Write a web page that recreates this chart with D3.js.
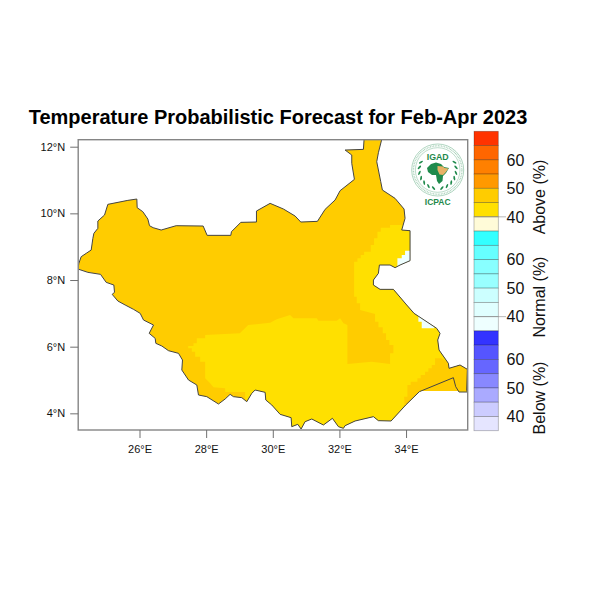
<!DOCTYPE html>
<html><head><meta charset="utf-8">
<script src="https://cdn.jsdelivr.net/npm/d3@7"></script>
<style>html,body{margin:0;padding:0;background:#fff}svg{display:block}text{font-family:"Liberation Sans",Arial,sans-serif}</style>
</head><body><svg id="c" width="600" height="600"></svg>
<script>
const title = "Temperature Probabilistic Forecast for Feb-Apr 2023";
const lonTicks = [26,28,30,32,34];
const latTicks = [4,6,8,10,12];
// South Sudan border [lon, lat]
const border = [[24.18,8.50],[24.25,8.70],[24.40,8.80],[24.55,8.90],[24.60,9.25],[24.63,9.40],[24.75,9.55],[24.75,9.77],[24.95,9.95],[25.05,10.27],[25.65,10.39],[25.92,10.43],[25.93,10.17],[26.10,10.05],[26.25,9.83],[26.30,9.63],[26.41,9.57],[26.65,9.50],[27.10,9.63],[27.91,9.62],[28.03,9.34],[28.74,9.34],[28.76,9.45],[29.04,9.73],[29.51,9.74],[29.51,10.07],[29.92,10.30],[30.32,10.13],[30.67,9.92],[30.84,9.74],[31.34,9.76],[31.57,10.12],[31.87,10.40],[32.02,10.68],[32.45,11.02],[32.37,11.50],[32.37,11.75],[32.17,11.90],[32.72,11.92],[32.74,12.22],[33.27,12.22],[33.17,11.82],[33.12,11.55],[33.24,10.95],[33.29,10.70],[33.67,10.45],[33.94,10.13],[33.97,9.85],[33.87,9.50],[34.12,9.48],[34.12,8.58],[33.82,8.45],[33.67,8.37],[33.52,8.45],[33.20,8.45],[33.17,8.20],[33.02,8.00],[33.02,7.85],[33.22,7.72],[33.62,7.72],[34.02,7.25],[34.24,7.00],[34.92,6.55],[35.02,6.40],[34.95,6.20],[34.99,5.90],[35.27,5.50],[35.29,5.35],[35.62,5.45],[35.84,5.32],[35.82,4.70],[35.84,4.64],[35.59,4.64],[35.49,4.80],[35.42,5.07],[34.40,4.65],[33.99,4.25],[33.55,3.77],[33.17,3.78],[33.02,3.90],[32.47,3.77],[32.17,3.63],[32.12,3.55],[31.97,3.60],[31.79,3.85],[31.52,3.65],[31.17,3.83],[30.97,3.75],[30.85,3.53],[30.75,3.67],[30.57,3.60],[30.55,3.87],[30.22,3.97],[29.97,4.25],[29.79,4.40],[29.77,4.63],[29.47,4.70],[29.37,4.60],[29.22,4.35],[29.07,4.47],[28.82,4.50],[28.72,4.57],[28.57,4.43],[28.37,4.28],[28.02,4.50],[27.77,4.55],[27.72,4.85],[27.47,5.00],[27.27,5.30],[27.29,5.60],[27.17,5.80],[26.87,5.88],[26.67,6.02],[26.49,6.10],[26.47,6.25],[26.29,6.40],[26.42,6.65],[26.12,6.80],[26.02,7.00],[25.82,7.12],[25.57,7.25],[25.35,7.37],[25.18,7.57],[25.25,7.63],[25.23,7.85],[25.0,7.93],[24.83,8.17],[24.45,8.23],[24.15,8.33]];
// 40-45% Above band
const yellowZone = [[27.46,6.02],[27.62,6.02],[27.62,6.10],[27.72,6.10],[27.72,6.25],[27.97,6.25],[27.97,6.35],[29.01,6.40],[29.11,6.50],[29.26,6.65],[29.92,6.72],[30.12,6.82],[30.52,6.95],[30.62,6.85],[31.32,6.85],[31.37,6.78],[31.92,6.78],[32.02,6.85],[32.12,6.70],[32.24,6.65],[32.24,5.48],[32.97,5.55],[33.52,5.48],[33.52,5.80],[33.62,5.80],[33.62,6.05],[33.50,6.05],[33.50,6.20],[33.40,6.20],[33.40,6.40],[33.30,6.40],[33.30,6.58],[33.17,6.58],[33.17,6.75],[33.07,6.75],[33.07,6.98],[32.82,7.05],[32.62,7.10],[32.62,7.30],[32.52,7.30],[32.52,7.50],[32.44,7.50],[32.44,8.55],[32.54,8.55],[32.54,8.65],[32.64,8.65],[32.64,8.75],[32.74,8.75],[32.74,8.85],[32.94,8.85],[32.94,9.05],[33.04,9.05],[33.04,9.25],[33.14,9.25],[33.14,9.45],[33.24,9.45],[33.24,9.57],[33.52,9.57],[33.52,9.65],[33.87,9.65],[34.3,9.65],[35.9,6.0],[35.9,3.3],[29.3,3.3],[29.3,4.3],[29.17,4.45],[29.17,4.64],[28.57,4.64],[28.57,4.75],[28.22,4.78],[28.12,4.90],[27.97,5.05],[27.97,5.55],[27.82,5.55],[27.82,5.70],[27.67,5.70],[27.67,5.85],[27.57,5.85],[27.57,5.95],[27.46,5.95]];
// 45-50% Above band in the south-east corner
const orangeCorner = [[33.96,4.22],[33.94,4.50],[34.04,4.50],[34.04,4.85],[34.14,4.85],[34.14,4.95],[34.34,4.95],[34.34,5.05],[34.44,5.05],[34.44,5.15],[34.57,5.15],[34.57,5.25],[34.67,5.25],[34.67,5.35],[34.77,5.35],[34.77,5.45],[34.87,5.45],[34.87,5.65],[35.07,5.65],[35.27,5.50],[35.29,5.35],[35.62,5.45],[35.84,5.32],[35.84,4.67],[34.42,4.67]];
// Near-normal slivers along the eastern border
const paleZones = [
  [[34.07,8.88],[33.97,8.88],[33.97,8.75],[33.87,8.75],[33.87,8.65],[33.74,8.65],[33.74,8.40],[34.22,8.5],[34.22,8.88]],
  [[33.66,7.72],[33.82,7.72],[33.82,7.55],[33.92,7.55],[33.92,7.40],[34.02,7.40],[34.02,7.28],[34.3,7.28],[34.1,7.72]],
  [[34.24,7.02],[34.37,7.02],[34.37,6.75],[34.47,6.75],[34.47,6.55],[34.85,6.55],[34.85,7.02]]
];
const aboveColors = ["#ff3300","#ff6600","#ff8000","#ff9900","#ffcc00","#ffe000","#fffbd8"];
const normalColors = ["#33ffff","#66ffff","#88ffff","#99ffff","#ccffff","#e0ffff","#eeffff"];
const belowColors = ["#3333ff","#5555ff","#6666ff","#8888ff","#aaaaff","#ccccff","#e5e5ff"];
const barLabels = ["60","50","40"];
const barTitles = ["Above (%)","Normal (%)","Below (%)"];

const svg = d3.select("#c");
const x = d3.scaleLinear().domain([24.16,35.85]).range([78.2,467.7]);
const y = d3.scaleLinear().domain([3.5,12.21]).range([430,139.7]);
const line = d3.line().x(d=>x(d[0])).y(d=>y(d[1])).curve(d3.curveLinearClosed);

const defs = svg.append("defs");
defs.append("clipPath").attr("id","cty").append("path").attr("d",line(border));
defs.append("clipPath").attr("id","frm").append("rect")
  .attr("x",x(24.16)).attr("y",y(12.21)).attr("width",x(35.85)-x(24.16)).attr("height",y(3.5)-y(12.21));

const ORANGE = aboveColors[4], YELLOW = aboveColors[5], PALE = normalColors[6];
const map = svg.append("g").attr("clip-path","url(#frm)");
map.append("path").attr("d",line(border)).attr("fill",ORANGE);
const inner = map.append("g").attr("clip-path","url(#cty)");
inner.append("path").attr("d",line(yellowZone)).attr("fill",YELLOW);
inner.selectAll("path.p").data(paleZones).join("path").attr("class","p").attr("d",line).attr("fill",PALE);
map.append("path").attr("d",line(orangeCorner)).attr("fill",ORANGE);
map.append("path").attr("d",line(border)).attr("fill","none").attr("stroke","#444").attr("stroke-width",1).attr("stroke-linejoin","round");

// frame + axes
svg.append("rect").attr("x",x(24.16)).attr("y",y(12.21)).attr("width",x(35.85)-x(24.16)).attr("height",y(3.5)-y(12.21))
  .attr("fill","none").attr("stroke","#858585").attr("stroke-width",1.4);
const styleAxis = g => {
  g.select(".domain").remove();
  g.selectAll("line").attr("stroke","#707070").attr("stroke-width",1);
  g.selectAll("text").attr("fill","#111").attr("font-size",11).attr("font-family",'"Liberation Sans",Arial,sans-serif');
};
svg.append("g").attr("transform",`translate(0,${y(3.5)})`)
  .call(d3.axisBottom(x).tickValues(lonTicks).tickSize(8).tickPadding(7).tickFormat(d=>d+"°E")).call(styleAxis);
svg.append("g").attr("transform",`translate(${x(24.16)},0)`)
  .call(d3.axisLeft(y).tickValues(latTicks).tickSize(8).tickPadding(5).tickFormat(d=>d+"°N")).call(styleAxis);

svg.append("text").attr("x",278).attr("y",124).attr("text-anchor","middle")
  .attr("font-size",20).attr("font-weight","bold").attr("fill","#000").text(title);

// colour bar
const cells = aboveColors.concat(normalColors, belowColors);
const bar = d3.scaleBand().domain(d3.range(cells.length)).range([131.3,430.7]);
const cb = svg.append("g");
cb.selectAll("rect").data(cells).join("rect")
  .attr("x",474).attr("width",24.3).attr("y",(d,i)=>bar(i)).attr("height",bar.bandwidth())
  .attr("fill",d=>d).attr("stroke","#000").attr("stroke-opacity",.3).attr("stroke-width",.8);
[aboveColors,normalColors,belowColors].forEach((set,k)=>{
  const off = k*set.length;
  barLabels.forEach((t,j)=>{
    const yy = bar(off+2+2*j);
    svg.append("text").attr("x",506.5).attr("y",yy+5.8).attr("font-size",16).attr("fill","#111").text(t);
    if(j===2 && k<2) svg.append("line").attr("x1",474).attr("x2",506).attr("y1",yy).attr("y2",yy).attr("stroke","#999").attr("stroke-width",.7);
  });
});
const titleY = [197,297,398];
barTitles.forEach((t,i)=>{
  svg.append("text").attr("transform",`translate(545,${titleY[i]}) rotate(-90)`).attr("text-anchor","middle")
    .attr("font-size",16).attr("fill","#111").text(t);
});

// logo
const GREEN="#1f8a4c";
const logo = svg.append("g");
const cx=437.7, cy=170;
logo.append("circle").attr("cx",cx).attr("cy",cy).attr("r",26).attr("fill","#fff").attr("stroke",GREEN).attr("stroke-opacity",.5).attr("stroke-width",.7);
logo.append("circle").attr("cx",cx).attr("cy",cy).attr("r",24.2).attr("fill","none").attr("stroke",GREEN).attr("stroke-opacity",.4).attr("stroke-width",1.4).attr("stroke-dasharray","0.8 0.8");
logo.append("circle").attr("cx",cx).attr("cy",cy).attr("r",22.3).attr("fill","none").attr("stroke",GREEN).attr("stroke-opacity",.5).attr("stroke-width",.6);
logo.append("text").attr("x",cx).attr("y",160.3).attr("text-anchor","middle").attr("font-size",8.8).attr("font-weight","bold").attr("fill",GREEN).text("IGAD");
logo.append("path").attr("d","M427,168 L431,164 L436,162.5 L441,164 L444,167 L449,168 L446,173 L443,176 L442.5,181 L439,184 L437,181 L436,175 L432,175 L428,172 Z").attr("fill",GREEN);
logo.append("path").attr("d","M437.5,166 L443,166.5 L444.5,168 L448.5,168.5 L445.5,172.5 L443,175 L439.5,174.5 L437.5,170 Z").attr("fill","#e8b266");
[-1,1].forEach(s=>{
  d3.range(-25,85,17).forEach(a=>{
    const r=(a)*Math.PI/180, px=cx+s*18.5*Math.cos(r), py=cy+18.5*Math.sin(r);
    logo.append("ellipse").attr("rx",2.3).attr("ry",.9).attr("fill",GREEN)
      .attr("transform",`translate(${px},${py}) rotate(${s*(a+55)})`);
  });
});
logo.append("text").attr("x",cx).attr("y",205).attr("text-anchor","middle").attr("font-size",8.5).attr("font-weight","bold").attr("fill",GREEN).text("ICPAC");
</script></body></html>
